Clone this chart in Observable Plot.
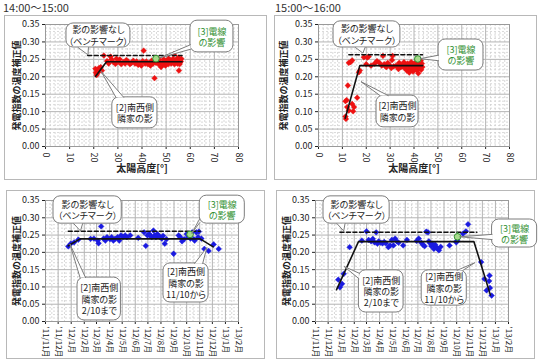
<!DOCTYPE html>
<html><head><meta charset="utf-8">
<script src="https://cdn.jsdelivr.net/npm/d3@7"></script>
<script src="https://cdn.jsdelivr.net/npm/@observablehq/plot@0.6"></script>
<style>
body{margin:0;background:#fff;font-family:"Noto Sans CJK JP",sans-serif}
#root{position:relative;width:540px;height:361px;overflow:hidden;background:#fff}
.frame{position:absolute;border:1px solid #b8b8b8;box-sizing:border-box}
.title{position:absolute;font-size:11px;line-height:13px;color:#333;font-family:"Noto Sans CJK JP",sans-serif}
.panel{position:absolute}
svg text{font-feature-settings:"palt"}
.bottom g[aria-label="x-axis"] text, .bottom g[aria-label="x-axis tick label"] text{font-size:8px}
</style></head><body><div id="root"></div>
<script>
// ---------- data ----------
const titles = ["14:00～15:00", "15:00～16:00"];
const yLabel = "発電指数の温度補正値";
const xLabelTop = "太陽高度[°]";
const yTicks = [0, 0.05, 0.10, 0.15, 0.20, 0.25, 0.30, 0.35];
const xTicksTop = [0, 10, 20, 30, 40, 50, 60, 70, 80];
const monthTicks = ["2011-11-01","2011-12-01","2012-01-01","2012-02-01","2012-03-01","2012-04-01","2012-05-01","2012-06-01","2012-07-01","2012-08-01","2012-09-01","2012-10-01","2012-11-01","2012-12-01","2013-01-01","2013-02-01"];
const monthLabels = ["'11/11月","'11/12月","'12/1月","'12/2月","'12/3月","'12/4月","'12/5月","'12/6月","'12/7月","'12/8月","'12/9月","'12/10月","'12/11月","'12/12月","'13/1月","'13/2月"];

// 14:00-15:00, sun altitude vs value
const tlPoints = [[20.7,0.223],[20.9,0.212],[21.2,0.205],[21.4,0.209],[21.6,0.218],[21.9,0.214],[22.2,0.225],[22.5,0.22],[22.9,0.228],[23.4,0.218],[24.2,0.261],[25.5,0.245],[26.2,0.238],[27.0,0.258],[27.3,0.25],[28.2,0.242],[29.0,0.237],[29.4,0.252],[30.2,0.244],[30.8,0.25],[31.4,0.236],[32.2,0.242],[33.0,0.238],[33.5,0.248],[34.2,0.244],[35.0,0.236],[35.6,0.24],[36.4,0.246],[37.1,0.238],[37.8,0.244],[38.4,0.234],[39.0,0.24],[39.7,0.232],[40.3,0.245],[40.7,0.275],[41.3,0.238],[41.8,0.244],[42.4,0.236],[43.0,0.24],[43.5,0.232],[44.0,0.246],[44.6,0.238],[45.2,0.196],[45.8,0.24],[46.4,0.246],[46.9,0.236],[47.4,0.243],[47.9,0.228],[48.4,0.24],[48.8,0.236],[49.3,0.244],[49.7,0.232],[50.1,0.246],[50.5,0.24],[50.9,0.236],[51.3,0.244],[51.7,0.248],[52.1,0.238],[52.5,0.242],[52.9,0.252],[53.2,0.265],[53.5,0.236],[53.8,0.246],[54.1,0.242],[54.4,0.25],[54.7,0.238],[55.0,0.255],[55.2,0.244],[55.3,0.218],[55.5,0.25],[55.7,0.24],[55.9,0.248],[56.1,0.244],[56.3,0.252],[51.0,0.252],[49.0,0.25],[47.0,0.25],[53.0,0.24],[54.5,0.245],[55.6,0.236]];
const tlSolid = [[20.7,0.201],[25.3,0.243],[56.6,0.243]];
const tlDashed = [[17.5,0.261],[56.6,0.261]];
const tlGreen = [[45.8,0.252]];

// 15:00-16:00
const trPoints = [[11.3,0.086],[11.5,0.079],[11.8,0.133],[11.3,0.13],[12.0,0.113],[12.7,0.103],[12.3,0.175],[14.1,0.122],[14.5,0.101],[14.9,0.113],[16.2,0.14],[12.7,0.24],[13.4,0.242],[14.1,0.247],[16.9,0.213],[17.3,0.218],[19.0,0.256],[20.4,0.255],[20.0,0.236],[21.0,0.258],[22.0,0.232],[23.5,0.238],[24.5,0.245],[25.5,0.24],[26.5,0.232],[27.0,0.26],[27.5,0.236],[28.0,0.23],[28.5,0.228],[29.0,0.24],[30.0,0.232],[30.5,0.225],[30.8,0.248],[31.0,0.26],[31.5,0.23],[32.5,0.232],[33.0,0.228],[33.5,0.222],[33.8,0.24],[34.0,0.235],[34.5,0.228],[35.0,0.23],[35.5,0.236],[35.8,0.242],[36.0,0.225],[36.5,0.232],[36.8,0.228],[37.0,0.218],[37.3,0.238],[37.6,0.225],[38.0,0.212],[38.3,0.232],[38.6,0.22],[38.8,0.242],[39.0,0.228],[39.3,0.238],[39.6,0.215],[39.8,0.235],[40.0,0.225],[40.3,0.232],[40.6,0.222],[40.8,0.242],[41.0,0.235],[41.3,0.218],[41.6,0.228],[41.8,0.21],[42.0,0.24],[42.3,0.225],[42.6,0.232],[42.8,0.246],[43.0,0.22],[43.3,0.238],[43.5,0.228]];
const trSolid = [[11.2,0.081],[17.3,0.232],[43.6,0.232]];
const trDashed = [[12.7,0.263],[43.6,0.263]];
const trGreen = [[41.6,0.251]];

// 14:00-15:00 by date
const blPoints = [["2011-12-25",0.217],["2011-12-31",0.225],["2012-01-08",0.229],["2012-01-18",0.237],["2012-02-16",0.239],["2012-02-24",0.24],["2012-03-04",0.234],["2012-03-06",0.226],["2012-03-12",0.275],["2012-03-18",0.24],["2012-03-22",0.234],["2012-03-26",0.244],["2012-04-02",0.238],["2012-04-06",0.244],["2012-04-10",0.234],["2012-04-14",0.239],["2012-04-20",0.244],["2012-04-24",0.234],["2012-04-28",0.249],["2012-05-03",0.245],["2012-05-08",0.249],["2012-05-12",0.244],["2012-05-20",0.249],["2012-06-08",0.242],["2012-06-22",0.258],["2012-06-26",0.219],["2012-06-30",0.249],["2012-07-04",0.253],["2012-07-07",0.249],["2012-07-10",0.244],["2012-07-14",0.263],["2012-07-17",0.249],["2012-07-20",0.244],["2012-07-23",0.253],["2012-07-26",0.249],["2012-07-30",0.244],["2012-08-03",0.24],["2012-08-06",0.248],["2012-08-10",0.225],["2012-08-14",0.238],["2012-08-31",0.196],["2012-09-12",0.249],["2012-09-16",0.244],["2012-09-20",0.232],["2012-09-25",0.238],["2012-10-01",0.253],["2012-10-04",0.244],["2012-10-10",0.24],["2012-10-14",0.258],["2012-10-18",0.238],["2012-10-20",0.234],["2012-10-24",0.258],["2012-10-28",0.244],["2012-10-30",0.26],["2012-11-05",0.24],["2012-11-12",0.21],["2012-11-22",0.204],["2012-12-04",0.223],["2012-12-16",0.21]];
const blSolid = [["2011-12-25",0.219],["2012-01-22",0.239],["2012-11-02",0.239],["2012-12-03",0.216]];
const blDashed = [["2011-12-25",0.261],["2012-11-02",0.261]];
const blGreen = [["2012-10-09",0.252]];

// 15:00-16:00 by date
const brPoints = [["2011-12-25",0.121],["2011-12-29",0.099],["2012-01-03",0.109],["2012-01-07",0.138],["2012-01-21",0.215],["2012-02-19",0.234],["2012-03-01",0.261],["2012-03-06",0.236],["2012-03-12",0.232],["2012-03-16",0.239],["2012-03-20",0.229],["2012-03-24",0.258],["2012-03-27",0.225],["2012-03-30",0.232],["2012-04-04",0.228],["2012-04-08",0.226],["2012-04-12",0.23],["2012-04-16",0.226],["2012-04-22",0.215],["2012-04-26",0.22],["2012-04-30",0.236],["2012-05-04",0.22],["2012-05-08",0.24],["2012-05-12",0.232],["2012-05-16",0.228],["2012-05-27",0.22],["2012-06-05",0.236],["2012-06-28",0.233],["2012-07-03",0.24],["2012-07-09",0.228],["2012-07-13",0.222],["2012-07-17",0.218],["2012-07-21",0.26],["2012-07-25",0.258],["2012-07-27",0.232],["2012-07-30",0.226],["2012-08-02",0.218],["2012-08-05",0.224],["2012-08-08",0.21],["2012-08-11",0.222],["2012-08-14",0.215],["2012-08-17",0.21],["2012-08-20",0.206],["2012-08-24",0.216],["2012-09-14",0.22],["2012-09-30",0.229],["2012-10-02",0.234],["2012-10-16",0.254],["2012-10-23",0.261],["2012-10-28",0.281],["2012-11-28",0.172],["2012-12-06",0.123],["2012-12-11",0.09],["2012-12-17",0.117],["2012-12-18",0.133],["2012-12-19",0.097],["2012-12-23",0.075]];
const brSolid = [["2011-12-21",0.092],["2012-02-11",0.231],["2012-11-11",0.231],["2012-12-20",0.077]];
const brDashed = [["2011-12-29",0.258],["2012-11-18",0.258]];
const brGreen = [["2012-10-03",0.245]];
const brGreenBar = [["2012-10-03",0.232,0.258]];

// callouts (data units)
const txtBench = "影の影響なし\n（ベンチマーク）";
const txtWire = "[3]電線\nの影響";
const txtHouse = "[2]南西側\n隣家の影";
const txtHouseUntil = "[2]南西側\n隣家の影\n2/10まで";
const txtHouseFrom = "[2]南西側\n隣家の影\n11/10から";
const tlCallouts = [
  {x1:8.7,x2:35.2,y1:0.284,y2:0.353,tail:[[13.5,0.284],[17.6,0.263],[17.8,0.284]],text:txtBench,green:false},
  {x1:60.1,x2:77.9,y1:0.27,y2:0.361,tail:[[60.1,0.292],[47.2,0.254],[60.1,0.279]],text:txtWire,green:true},
  {x1:27.7,x2:46.4,y1:0.052,y2:0.141,tail:[[29.2,0.141],[23.0,0.216],[32.4,0.141]],text:txtHouse,green:false}
];
const trCallouts = [
  {x1:6.3,x2:34.3,y1:0.284,y2:0.359,tail:[[15.5,0.284],[18.6,0.268],[19.5,0.284]],text:txtBench,green:false},
  {x1:50.3,x2:69.1,y1:0.218,y2:0.307,tail:[[50.3,0.262],[42.6,0.252],[50.3,0.246]],text:txtWire,green:true},
  {x1:24.3,x2:41.9,y1:0.055,y2:0.146,tail:[[25.8,0.146],[17.8,0.186],[29.2,0.146]],text:txtHouse,green:false}
];
const blCallouts = [
  {x1:"2011-11-20",x2:"2012-04-30",y1:0.283,y2:0.362,tail:[["2012-01-07",0.283],["2012-01-23",0.262],["2012-01-28",0.283]],text:txtBench,green:false},
  {x1:"2012-11-01",x2:"2013-02-16",y1:0.283,y2:0.364,tail:[["2012-11-01",0.297],["2012-10-13",0.255],["2012-11-01",0.286]],text:txtWire,green:true},
  {x1:"2012-01-16",x2:"2012-04-28",y1:0.003,y2:0.127,tail:[["2012-01-22",0.127],["2011-12-29",0.224],["2012-02-04",0.127]],text:txtHouseUntil,green:false},
  {x1:"2012-08-07",x2:"2012-11-22",y1:0.055,y2:0.168,tail:[["2012-10-20",0.168],["2012-11-18",0.214],["2012-11-08",0.168]],text:txtHouseFrom,green:false}
];
const brCallouts = [
  {x1:"2011-11-20",x2:"2012-04-25",y1:0.283,y2:0.362,tail:[["2011-12-22",0.283],["2012-01-07",0.262],["2012-01-10",0.283]],text:txtBench,green:false},
  {x1:"2012-12-24",x2:"2013-04-10",y1:0.214,y2:0.295,tail:[["2012-12-24",0.252],["2012-10-08",0.245],["2012-12-24",0.237]],text:txtWire,green:true},
  {x1:"2012-02-12",x2:"2012-05-28",y1:0.026,y2:0.148,tail:[["2012-02-12",0.14],["2012-01-08",0.159],["2012-02-12",0.124]],text:txtHouseUntil,green:false},
  {x1:"2012-07-10",x2:"2012-10-25",y1:0.046,y2:0.148,tail:[["2012-10-02",0.148],["2012-11-13",0.17],["2012-10-16",0.148]],text:txtHouseFrom,green:false}
];

// ---------- drawing ----------
const root = document.getElementById("root");
const FONT = "'Noto Sans CJK JP', sans-serif";
const GREEN = "#2f8f2f";

function addDiv(cls, css, html) {
  const d = document.createElement("div");
  d.className = cls;
  Object.assign(d.style, css);
  if (html != null) d.textContent = html;
  root.appendChild(d);
  return d;
}

function panel(cfg) {
  const isTime = cfg.time;
  const px = v => isTime ? new Date(v) : v;
  const pts = cfg.points.map(d => ({x: px(d[0]), y: d[1]}));
  const solid = cfg.solid.map(d => ({x: px(d[0]), y: d[1]}));
  const dashed = cfg.dashed.map(d => ({x: px(d[0]), y: d[1]}));
  const green = cfg.green.map(d => ({x: px(d[0]), y: d[1]}));
  const yMinor = d3.range(0, 0.3501, 0.01).filter(v => Math.abs(v / 0.05 - Math.round(v / 0.05)) > 1e-6);
  let xMajor, xMinor, xOpts;
  if (isTime) {
    xMajor = monthTicks.map(s => new Date(s));
    xMinor = monthTicks.slice(0, -1).map(s => { const d = new Date(s); return new Date(Date.UTC(d.getUTCFullYear(), d.getUTCMonth(), 16)); });
    const lab = new Map(xMajor.map((d, i) => [+d, monthLabels[i]]));
    xOpts = {type: "utc", domain: [xMajor[0], xMajor[xMajor.length - 1]], ticks: xMajor, tickFormat: d => lab.get(+d) || "", tickRotate: 90, tickSize: 3, tickPadding: 2, label: null};
  } else {
    xMajor = xTicksTop;
    xMinor = d3.range(0, 80, 2).filter(v => v % 10 !== 0);
    xOpts = {domain: [0, 80], ticks: xTicksTop, tickFormat: d => String(d), tickRotate: 90, tickSize: 3, tickPadding: 3, label: null};
  }
  const marks = [
    Plot.ruleY(yMinor, {stroke: "#cfcfcf", strokeDasharray: "2,2", strokeWidth: 0.8}),
    Plot.ruleX(xMinor, {stroke: "#cfcfcf", strokeDasharray: "2,2", strokeWidth: 0.8}),
    Plot.ruleY(yTicks.slice(1), {stroke: "#b4b4b4", strokeWidth: 1}),
    Plot.ruleX(xMajor.slice(1), {stroke: "#b4b4b4", strokeWidth: 1}),
    Plot.frame({stroke: "#9a9a9a"}),
    Plot.dot(pts, {x: "x", y: "y", symbol: "diamond2", r: 2.6, fill: cfg.color, stroke: cfg.color, strokeWidth: 0.4}),
    Plot.line(dashed, {x: "x", y: "y", stroke: "#111", strokeWidth: 1.5, strokeDasharray: "4,2.5"}),
    Plot.line(solid, {x: "x", y: "y", stroke: "#111", strokeWidth: 1.6})
  ];
  if (cfg.greenBar) {
    const gb = cfg.greenBar.map(d => ({x: px(d[0]), y1: d[1], y2: d[2]}));
    marks.push(Plot.ruleX(gb, {x: "x", y1: "y1", y2: "y2", stroke: GREEN, strokeWidth: 1}));
  }
  marks.push(Plot.dot(green, {x: "x", y: "y", r: 3.3, fill: "#a8dc8c", stroke: GREEN, strokeWidth: 1}));
  cfg.callouts.forEach(c => {
    const box = {x1: px(c.x1), x2: px(c.x2), y1: c.y1, y2: c.y2};
    const tail = c.tail.map(d => ({x: px(d[0]), y: d[1]}));
    const mx = isTime ? new Date((+box.x1 + +box.x2) / 2) : (box.x1 + box.x2) / 2;
    marks.push(Plot.rect([box], {x1: "x1", x2: "x2", y1: "y1", y2: "y2", fill: "white", stroke: "#7d7d7d", strokeWidth: 1, rx: 7}));
    marks.push(Plot.line(tail, {x: "x", y: "y", fill: "white", stroke: "#7d7d7d", strokeWidth: 1}));
    marks.push(Plot.text([c.text], {x: () => mx, y: () => (c.y1 + c.y2) / 2, text: d => d, fill: c.green ? GREEN : "#222", fontSize: 9, lineHeight: 1.25, fontFamily: FONT}));
  });
  marks.push(Plot.text([yLabel], {frameAnchor: "left", dx: cfg.yLabelDx, rotate: -90, textAnchor: "middle", text: d => d, fontSize: 9, fontWeight: "bold", fill: "#222", fontFamily: FONT}));
  if (cfg.xLabel) marks.push(Plot.text([cfg.xLabel], {frameAnchor: "bottom", dy: cfg.xLabelDy, text: d => d, fontSize: 10, fontWeight: "bold", fill: "#222", fontFamily: FONT}));
  const svg = Plot.plot({
    width: cfg.width, height: cfg.height,
    marginLeft: cfg.ml, marginRight: cfg.mr, marginTop: cfg.mt, marginBottom: cfg.mb,
    style: {fontFamily: FONT, fontSize: "9px", background: "transparent", color: "#222"},
    x: xOpts,
    y: {domain: [0, 0.35], ticks: yTicks, tickFormat: d3.format(".2f"), tickSize: 3, tickPadding: 3, label: null},
    marks
  });
  svg.style.overflow = "visible";
  const wrap = addDiv("panel" + (isTime ? " bottom" : ""), {left: cfg.left + "px", top: cfg.top + "px", width: cfg.width + "px", height: cfg.height + "px"});
  wrap.appendChild(svg);
}

// frames and titles
addDiv("frame", {left: "4px", top: "15px", width: "263px", height: "165px"});
addDiv("frame", {left: "274px", top: "15px", width: "263px", height: "165px"});
addDiv("frame", {left: "6px", top: "190px", width: "259px", height: "169px"});
addDiv("frame", {left: "276px", top: "190px", width: "259px", height: "169px"});
addDiv("title", {left: "3px", top: "1px"}, titles[0]);
addDiv("title", {left: "275px", top: "1px"}, titles[1]);

panel({time: false, points: tlPoints, solid: tlSolid, dashed: tlDashed, green: tlGreen, callouts: tlCallouts, color: "#ee1111",
  left: 5, top: 16, width: 260, height: 162, ml: 40, mr: 27, mt: 8, mb: 32, yLabelDx: -28, xLabel: xLabelTop, xLabelDy: 25});
panel({time: false, points: trPoints, solid: trSolid, dashed: trDashed, green: trGreen, callouts: trCallouts, color: "#ee1111",
  left: 275, top: 16, width: 260, height: 162, ml: 43, mr: 26, mt: 8, mb: 32, yLabelDx: -34, xLabel: xLabelTop, xLabelDy: 25});
panel({time: true, points: blPoints, solid: blSolid, dashed: blDashed, green: blGreen, callouts: blCallouts, color: "#1a1ae0",
  left: 7, top: 191, width: 256, height: 166, ml: 38, mr: 25, mt: 9, mb: 36, yLabelDx: -28});
panel({time: true, points: brPoints, solid: brSolid, dashed: brDashed, green: brGreen, greenBar: brGreenBar, callouts: brCallouts, color: "#1a1ae0",
  left: 277, top: 191, width: 256, height: 166, ml: 38, mr: 25, mt: 9, mb: 36, yLabelDx: -28});
</script></body></html>
